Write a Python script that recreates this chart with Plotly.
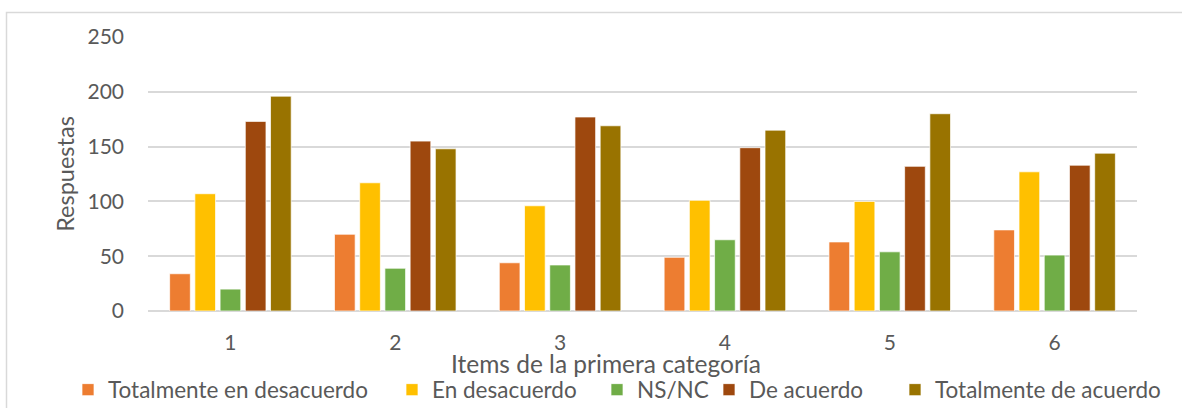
import plotly.graph_objects as go

categories = ["1", "2", "3", "4", "5", "6"]
series_names = ["Totalmente en desacuerdo", "En desacuerdo", "NS/NC", "De acuerdo", "Totalmente de acuerdo"]
totalmente_desacuerdo = [34, 70, 44, 49, 63, 74]
en_desacuerdo = [107, 117, 96, 101, 100, 127]
ns_nc = [20, 39, 42, 65, 54, 51]
de_acuerdo = [173, 155, 177, 149, 132, 133]
totalmente_acuerdo = [196, 148, 169, 165, 180, 144]
y_ticks = [0, 50, 100, 150, 200, 250]
x_title = "Items de la primera categoría"
y_title = "Respuestas"

colors = ["#ED7D31", "#FFC000", "#70AD47", "#9E480E", "#997300"]
values = [totalmente_desacuerdo, en_desacuerdo, ns_nc, de_acuerdo, totalmente_acuerdo]
# left pixel where each legend entry's text begins
legend_text_x = [108, 432, 637, 749, 935]

FONT = "Lato, 'Open Sans', sans-serif"
TXT = "#595959"
L, R, T, B = 148, 45, 37, 97
W, H = 1182, 408
pw = W - L - R
ph = H - T - B

def px_x(x):
    return (x - L) / pw

def px_y(y):
    return (T + ph - y) / ph

legend_ids = ["legend"] + [f"legend{i}" for i in range(2, len(series_names) + 1)]

fig = go.Figure()
for name, vals, col, lid in zip(series_names, values, colors, legend_ids):
    fig.add_trace(go.Bar(
        x=categories, y=vals, name=name, legend=lid,
        marker=dict(color=col, line=dict(color="rgba(255,255,255,0.7)", width=1)),
    ))

legend_layouts = {}
for lid, tx in zip(legend_ids, legend_text_x):
    legend_layouts[lid] = dict(
        orientation="h", x=px_x(tx - 40), xanchor="left", y=px_y(390), yanchor="middle",
        font=dict(family=FONT, size=22.5, color=TXT), itemwidth=30,
        bgcolor="rgba(0,0,0,0)")

fig.update_layout(
    width=W, height=H,
    margin=dict(l=L, r=R, t=T, b=B, pad=0, autoexpand=False),
    paper_bgcolor="white", plot_bgcolor="white",
    barmode="group", bargap=0.235, bargroupgap=0.18,
    font=dict(family=FONT, size=21, color=TXT),
    showlegend=True,
    xaxis=dict(showgrid=False, showline=False, ticks="", automargin=False,
               ticklabelstandoff=17, tickfont=dict(size=21, color=TXT)),
    yaxis=dict(range=[0, 250], tickvals=y_ticks, showgrid=True, gridcolor="#D9D9D9", gridwidth=1.5,
               zeroline=True, zerolinecolor="#D9D9D9", zerolinewidth=1.5, automargin=False,
               showline=False, ticks="", ticklabelstandoff=23, tickfont=dict(size=21, color=TXT),
               title=dict(text=y_title, standoff=6, font=dict(size=23.5, color=TXT))),
    annotations=[dict(text=x_title, xref="paper", yref="paper", x=px_x(606), y=px_y(363),
                      xanchor="center", yanchor="middle", showarrow=False,
                      font=dict(family=FONT, size=24.5, color=TXT))],
    shapes=[dict(type="rect", xref="paper", yref="paper",
                 x0=px_x(6.5), x1=px_x(W + 5),
                 y0=px_y(H + 5), y1=px_y(12.5),
                 line=dict(color="#D9D9D9", width=1.5), fillcolor="rgba(0,0,0,0)", layer="below")],
    **legend_layouts,
)

fig.write_html("out.html")
